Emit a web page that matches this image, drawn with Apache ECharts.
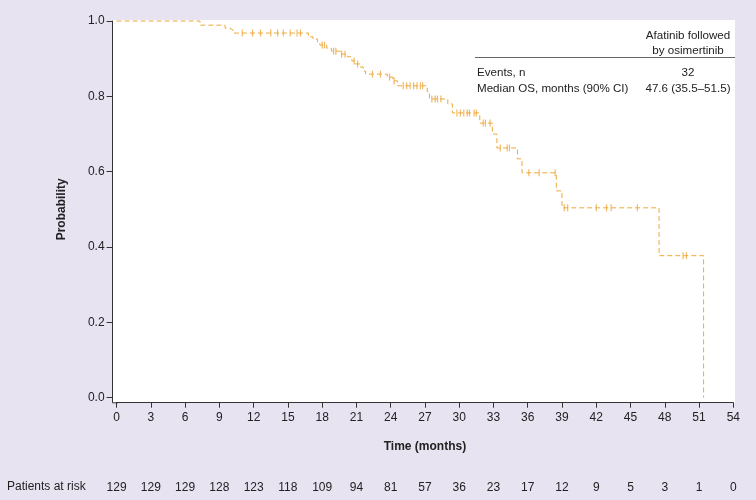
<!DOCTYPE html>
<html>
<head>
<meta charset="utf-8">
<script src="https://cdn.jsdelivr.net/npm/echarts@6/dist/echarts.min.js"></script>
<style>
  html, body { margin: 0; padding: 0; background: #e7e3f1; }
  #chart { width: 756px; height: 500px; }
</style>
</head>
<body>
<div id="chart"></div>
<script>
// Kaplan-Meier step points (time in months, survival probability after the drop)
const kmTimes = [0, 7.3, 9.5, 9.9, 10.2, 16.8, 17.2, 17.6, 17.8, 18.4, 18.8, 19.6, 20.2, 20.6, 20.9, 21.3, 21.6, 21.8, 23.7, 24.2, 24.6, 27.2, 27.4, 29.0, 29.4, 31.8, 32.9, 33.3, 35.1, 35.5, 38.5, 39.0, 47.5, 51.4];
const kmSurv  = [1, 0.989, 0.981, 0.976, 0.968, 0.958, 0.952, 0.944, 0.936, 0.928, 0.920, 0.912, 0.905, 0.894, 0.886, 0.878, 0.867, 0.859, 0.851, 0.841, 0.828, 0.812, 0.793, 0.780, 0.756, 0.729, 0.700, 0.663, 0.634, 0.597, 0.549, 0.504, 0.377, 0];

// Censoring marks
const censorTimes = [11.0, 11.9, 12.6, 13.5, 14.1, 14.6, 15.2, 15.8, 16.1,
  18.0, 18.2, 19.0, 19.2, 19.7, 20.0, 20.8, 21.1, 22.4, 23.1, 23.9, 24.3,
  25.1, 25.4, 25.7, 26.0, 26.3, 26.6, 26.8, 27.6, 27.9, 28.1, 28.4,
  29.8, 30.1, 30.4, 30.7, 30.9, 31.3, 31.5, 32.1, 32.3, 32.7,
  33.6, 34.2, 34.4, 36.1, 37.0, 38.4, 39.2, 39.5, 42.0, 42.9, 43.3, 45.6, 49.6, 49.9];
const censorSurv = [0.968, 0.968, 0.968, 0.968, 0.968, 0.968, 0.968, 0.968, 0.968,
  0.936, 0.936, 0.920, 0.920, 0.912, 0.912, 0.894, 0.886, 0.859, 0.859, 0.851, 0.841,
  0.828, 0.828, 0.828, 0.828, 0.828, 0.828, 0.828, 0.793, 0.793, 0.793, 0.793,
  0.756, 0.756, 0.756, 0.756, 0.756, 0.756, 0.756, 0.729, 0.729, 0.729,
  0.663, 0.663, 0.663, 0.597, 0.597, 0.597, 0.504, 0.504, 0.504, 0.504, 0.504, 0.504, 0.377, 0.377];

// Patients at risk at each 3-month tick (0..54)
const riskTicks = [0, 3, 6, 9, 12, 15, 18, 21, 24, 27, 30, 33, 36, 39, 42, 45, 48, 51, 54];
const riskCounts = [129, 129, 129, 128, 123, 118, 109, 94, 81, 57, 36, 23, 17, 12, 9, 5, 3, 1, 0];

// Summary table
const tableHeader = ['Afatinib followed', 'by osimertinib'];
const tableRows = [['Events, n', '32'], ['Median OS, months (90% CI)', '47.6 (35.5\u201351.5)']];

const FONT = '"Liberation Sans", Arial, Helvetica, sans-serif';
const ORANGE = '#efa83c';
const AXIS = '#333333';
const TEXT = '#222222';

const chart = echarts.init(document.getElementById('chart'), null, { renderer: 'canvas' });

const kmData = kmTimes.map((t, i) => [t, kmSurv[i]]);
const censorData = censorTimes.map((t, i) => [t, censorSurv[i]]);

const TF = '11.6px ' + FONT;
const tableGraphics = [];
tableGraphics.push({ type: 'line', shape: { x1: 475, y1: 57.5, x2: 735, y2: 57.5 }, style: { stroke: '#666', lineWidth: 1 } });
tableHeader.forEach((s, i) => {
  tableGraphics.push({ type: 'text', x: 688, y: 36 + i * 15, style: { text: s, font: TF, fill: TEXT, textAlign: 'center', textVerticalAlign: 'middle' } });
});
tableRows.forEach((r, i) => {
  tableGraphics.push({ type: 'text', x: 477, y: 72.5 + i * 16, style: { text: r[0], font: TF, fill: TEXT, textAlign: 'left', textVerticalAlign: 'middle' } });
  tableGraphics.push({ type: 'text', x: 688, y: 72.5 + i * 16, style: { text: r[1], font: TF, fill: TEXT, textAlign: 'center', textVerticalAlign: 'middle' } });
});

const option = {
  backgroundColor: '#e7e3f1',
  animation: false,
  grid: { left: 116.6, right: 22.7, top: 21, bottom: 102.3, containLabel: false },
  graphic: [
    { type: 'rect', z: -10, shape: { x: 112, y: 20, width: 623, height: 383 }, style: { fill: '#ffffff' } },
    // close the corner where the two offset axis lines meet
    { type: 'polyline', shape: { points: [[112.5, 396], [112.5, 402.8], [118, 402.8]] }, style: { stroke: AXIS, lineWidth: 1, fill: null } },
    ...tableGraphics,
    { type: 'text', x: 7, y: 487, style: { text: 'Patients at risk', font: '12px ' + FONT, fill: TEXT, textAlign: 'left', textVerticalAlign: 'middle' } }
  ],
  xAxis: [
    {
      type: 'value', min: 0, max: 54, interval: 3, offset: 5, position: 'bottom',
      axisLine: { show: true, onZero: false, lineStyle: { color: AXIS, width: 1 } },
      axisTick: { show: true, length: 5, lineStyle: { color: AXIS } },
      axisLabel: { margin: 9, fontSize: 12, color: TEXT, fontFamily: FONT },
      splitLine: { show: false },
      name: 'Time (months)', nameLocation: 'middle', nameGap: 38,
      nameTextStyle: { fontSize: 12, fontWeight: 'bold', color: TEXT, fontFamily: FONT }
    },
    {
      type: 'value', min: 0, max: 54, interval: 3, position: 'bottom', offset: 80,
      axisLine: { show: false, onZero: false }, axisTick: { show: false }, splitLine: { show: false },
      axisLabel: {
        margin: 4, fontSize: 12, color: TEXT, fontFamily: FONT,
        formatter: v => { const i = riskTicks.indexOf(Math.round(v)); return i >= 0 ? String(riskCounts[i]) : ''; }
      }
    }
  ],
  yAxis: {
    type: 'value', min: 0, max: 1, interval: 0.2, offset: 4, position: 'left',
    axisLine: { show: true, onZero: false, lineStyle: { color: AXIS, width: 1 } },
    axisTick: { show: true, length: 6, lineStyle: { color: AXIS } },
    axisLabel: { margin: 8, fontSize: 12, color: TEXT, fontFamily: FONT, formatter: v => v.toFixed(1) },
    splitLine: { show: false },
    name: 'Probability', nameLocation: 'middle', nameGap: 45,
    nameTextStyle: { fontSize: 12, fontWeight: 'bold', color: TEXT, fontFamily: FONT }
  },
  series: [
    {
      type: 'line', step: 'end', data: kmData, xAxisIndex: 0, showSymbol: false, symbol: 'none',
      lineStyle: { color: ORANGE, width: 1, type: [5, 3] }, z: 3, clip: false
    },
    {
      type: 'scatter', data: censorData, xAxisIndex: 0, symbol: 'rect', symbolSize: [1.2, 7],
      itemStyle: { color: ORANGE }, z: 4
    }
  ]
};
chart.setOption(option);
</script>
</body>
</html>
